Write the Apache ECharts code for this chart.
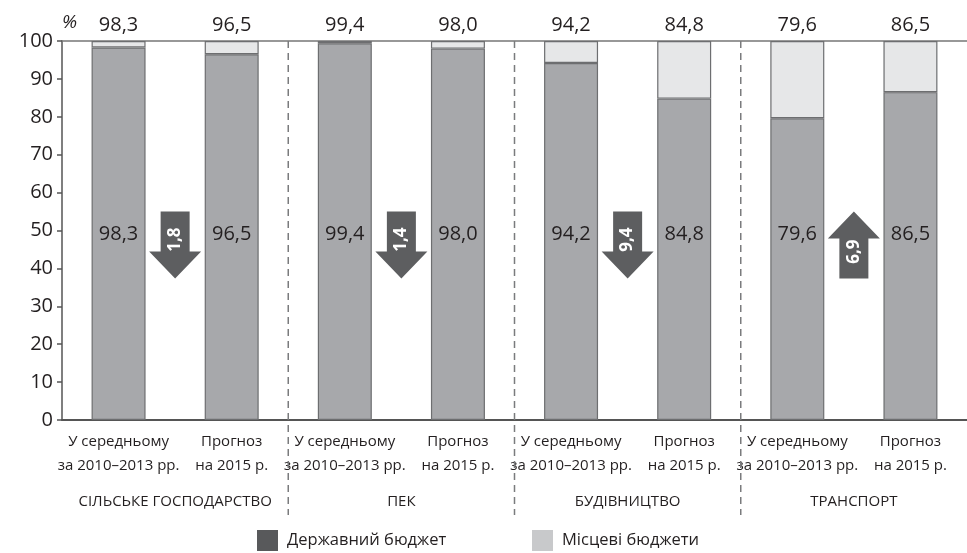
<!DOCTYPE html>
<html>
<head>
<meta charset="utf-8">
<script src="https://cdn.jsdelivr.net/npm/echarts@6/dist/echarts.min.js"></script>
<style>
html,body{margin:0;padding:0;background:#fff;}
#chart{width:967px;height:553px;}
</style>
</head>
<body>
<div id="chart"></div>
<script>
// ---- data ----
const categories = [
  'У середньому\nза 2010–2013 рр.', 'Прогноз\nна 2015 р.',
  'У середньому\nза 2010–2013 рр.', 'Прогноз\nна 2015 р.',
  'У середньому\nза 2010–2013 рр.', 'Прогноз\nна 2015 р.',
  'У середньому\nза 2010–2013 рр.', 'Прогноз\nна 2015 р.'
];
const groups = ['СІЛЬСЬКЕ ГОСПОДАРСТВО', 'ПЕК', 'БУДІВНИЦТВО', 'ТРАНСПОРТ'];
const stateBudget = [98.3, 96.5, 99.4, 98.0, 94.2, 84.8, 79.6, 86.5];
const localBudgets = [1.7, 3.5, 0.6, 2.0, 5.8, 15.2, 20.4, 13.5];
const arrowValues = [1.8, 1.4, 9.4, 6.9];
const yTicks = [0, 10, 20, 30, 40, 50, 60, 70, 80, 90, 100];

const FONT = 'Open Sans';
const fmt = v => v.toFixed(1).replace('.', ',');
const perGroup = categories.length / groups.length;

const separatorData = groups.slice(1).map((g, i) => [(i + 1) * perGroup]);
const arrowData = arrowValues.map((v, g) => {
  const a = stateBudget[g * perGroup], b = stateBudget[g * perGroup + 1];
  return [g * perGroup, v, b < a ? -1 : 1];
});

const chart = echarts.init(document.getElementById('chart'), null, {renderer: 'canvas'});
chart.setOption({
  animation: false,
  backgroundColor: '#fff',
  textStyle: {fontFamily: FONT},
  grid: {left: 62, right: -9, top: 41, bottom: 133},
  legend: [
    {
      data: [{name: 'Державний бюджет', itemStyle: {color: '#58595b', borderWidth: 0}}],
      left: 257, top: 530, padding: 0, itemWidth: 21, itemHeight: 21, itemGap: 0,
      icon: 'rect',
      textStyle: {fontFamily: FONT, fontSize: 16.5, color: '#231f20', padding: [0, 0, 0, 4]}
    },
    {
      data: [{name: 'Місцеві бюджети', itemStyle: {color: '#c8c9cb', borderWidth: 0}}],
      left: 532, top: 530, padding: 0, itemWidth: 21, itemHeight: 21, itemGap: 0,
      icon: 'rect',
      textStyle: {fontFamily: FONT, fontSize: 16.5, color: '#231f20', padding: [0, 0, 0, 4]}
    }
  ],
  xAxis: [
    {
      type: 'category', data: categories, position: 'bottom',
      axisLine: {show: true, lineStyle: {color: '#555', width: 2}},
      axisTick: {show: false},
      axisLabel: {
        interval: 0, margin: 10, fontFamily: FONT, fontSize: 15, lineHeight: 24,
        color: '#231f20', align: 'center'
      },
      splitLine: {show: false}
    },
    {
      type: 'category', data: groups, position: 'bottom',
      axisLine: {show: false}, axisTick: {show: false},
      axisLabel: {interval: 0, margin: 74, fontFamily: FONT, fontSize: 15, color: '#231f20'},
      splitLine: {show: false}
    },
    {
      type: 'category', data: categories, position: 'top',
      axisLine: {show: true, lineStyle: {color: '#777', width: 1.5}},
      axisTick: {show: false}, axisLabel: {show: false}, splitLine: {show: false}
    }
  ],
  yAxis: {
    type: 'value', min: yTicks[0], max: yTicks[yTicks.length - 1], interval: 10,
    name: '%', nameLocation: 'end', nameGap: 9,
    nameTextStyle: {fontFamily: FONT, fontSize: 19, fontStyle: 'italic', color: '#231f20', align: 'left'},
    axisLine: {show: true, lineStyle: {color: '#555', width: 1.5}},
    axisTick: {show: true, length: 5, lineStyle: {color: '#555', width: 1.5}},
    axisLabel: {fontFamily: FONT, fontSize: 20, color: '#231f20', margin: 9},
    splitLine: {show: false}
  },
  series: [
    {
      name: 'Державний бюджет', type: 'bar', stack: 'b', barWidth: 54,
      data: stateBudget,
      itemStyle: {color: '#a7a8ab', borderColor: '#6d6e70', borderWidth: 1.2},
      label: {
        show: true, position: 'insideBottom', distance: 176,
        fontFamily: FONT, fontSize: 20, color: '#231f20',
        formatter: p => fmt(p.value)
      }
    },
    {
      name: 'Місцеві бюджети', type: 'bar', stack: 'b', barWidth: 54,
      data: localBudgets,
      itemStyle: {color: '#e6e7e8', borderColor: '#6d6e70', borderWidth: 1.2},
      label: {
        show: true, position: 'top', distance: 6,
        fontFamily: FONT, fontSize: 20, color: '#231f20',
        formatter: p => fmt(stateBudget[p.dataIndex])
      }
    },
    {
      name: 'separators', type: 'custom', clip: false, silent: true,
      data: separatorData,
      renderItem: (params, api) => {
        const w = api.size([1, 0])[0];
        const top = api.coord([api.value(0), yTicks[yTicks.length - 1]]);
        const bottom = api.coord([api.value(0), yTicks[0]]);
        const x = top[0] - w / 2;
        return {
          type: 'line',
          shape: {x1: x, y1: top[1], x2: x, y2: bottom[1] + 95},
          style: {stroke: '#7a7b7d', lineWidth: 1.5, lineDash: [7, 5]}
        };
      },
      z: 1
    },
    {
      name: 'arrows', type: 'custom', clip: false, silent: true,
      data: arrowData,
      renderItem: (params, api) => {
        const w = api.size([1, 0])[0];
        const c = api.coord([api.value(0), 55]);
        const cx = c[0] + w / 2, y0 = c[1];
        const W = 52, H = 67, HH = 27, SW = 29;
        const dir = api.value(2);
        let pts, ty;
        if (dir < 0) {
          pts = [[cx - SW / 2, y0], [cx + SW / 2, y0], [cx + SW / 2, y0 + H - HH], [cx + W / 2, y0 + H - HH],
                 [cx, y0 + H], [cx - W / 2, y0 + H - HH], [cx - SW / 2, y0 + H - HH]];
          ty = y0 + 28;
        } else {
          pts = [[cx, y0], [cx + W / 2, y0 + HH], [cx + SW / 2, y0 + HH], [cx + SW / 2, y0 + H],
                 [cx - SW / 2, y0 + H], [cx - SW / 2, y0 + HH], [cx - W / 2, y0 + HH]];
          ty = y0 + 40;
        }
        return {
          type: 'group',
          children: [
            {type: 'polygon', shape: {points: pts}, style: {fill: '#5d5e60'}},
            {
              type: 'text', x: cx, y: ty, rotation: Math.PI / 2,
              style: {
                text: fmt(api.value(1)), fill: '#fff', fontFamily: FONT, fontWeight: 'bold',
                fontSize: 17, align: 'center', verticalAlign: 'middle'
              }
            }
          ]
        };
      },
      z: 5
    }
  ]
});
</script>
</body>
</html>
